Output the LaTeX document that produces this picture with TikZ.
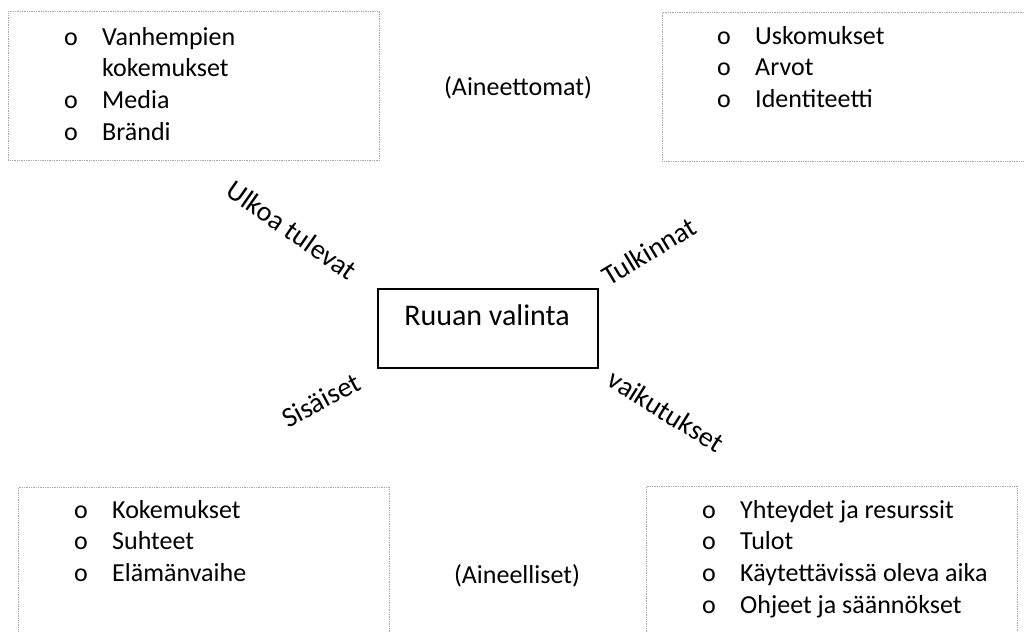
\documentclass[tikz,border=0pt]{standalone}
\usepackage{fontspec}
\setmainfont{Carlito}
\newcommand{\luettelo}[1]{\begin{tabular}[t]{@{}p{1.14cm}@{}l@{}}#1\end{tabular}}

\begin{document}
\begin{tikzpicture}[x=0.03cm, y=-0.03cm,
    ryhma/.style={draw=black!35, densely dotted, line width=0.5pt, anchor=north west, inner sep=0pt},
    lista/.style={anchor=base west, inner sep=0pt, font=\fontsize{22.2}{27.2}\selectfont},
    selite/.style={inner sep=0pt, font=\fontsize{24}{28}\selectfont}]
    \useasboundingbox (0,0) rectangle (1024,631);
    \clip (0,0) rectangle (1024,631);
    % ryhmien laatikot
    \node[ryhma, minimum width=11.13cm, minimum height=4.47cm] (ulkoinen) at (8,11) {};
    \node[ryhma, minimum width=11.04cm, minimum height=4.47cm] (tulkinta) at (662,12) {};
    \node[ryhma, minimum width=11.13cm, minimum height=4.6cm] (sisainen) at (18,487) {};
    \node[ryhma, minimum width=11.13cm, minimum height=4.6cm] (vaikutus) at (646,486) {};
    \node[lista] (ulkolista) at (64,45) {\luettelo{o & Vanhempien\\ & kokemukset\\ o & Media\\ o & Brändi}};
    \node[lista] (tulkintalista) at (717,44) {\luettelo{o & Uskomukset\\ o & Arvot\\ o & Identiteetti}};
    \node[lista] (sisalista) at (74,518) {\luettelo{o & Kokemukset\\ o & Suhteet\\ o & Elämänvaihe}};
    \node[lista] (vaikutuslista) at (702,518) {\luettelo{o & Yhteydet ja resurssit\\ o & Tulot\\ o & Käytettävissä oleva aika\\ o & Ohjeet ja säännökset}};
    \node[lista, anchor=center] (aineeton) at (518,88) {(Aineettomat)};
    \node[lista, anchor=center] (aineellinen) at (517,576) {(Aineelliset)};
    % keskus
    \node[draw, line width=1pt, minimum width=6.6cm, minimum height=2.37cm] (valinta) at (488,328.5) {};
    \node[anchor=base, inner sep=0pt, font=\fontsize{25.6}{30}\selectfont] (valintateksti) at (487,325) {Ruuan valinta};
    \node[selite, rotate=-35] (ulkoa) at (292,230) {Ulkoa tulevat};
    \node[selite, rotate=31] (tulkinnat) at (649,251) {Tulkinnat};
    \node[selite, rotate=28] (sisaiset) at (321,400) {Sisäiset};
    \node[selite, rotate=-32] (vaikutukset) at (666,411) {vaikutukset};
\end{tikzpicture}
\end{document}
